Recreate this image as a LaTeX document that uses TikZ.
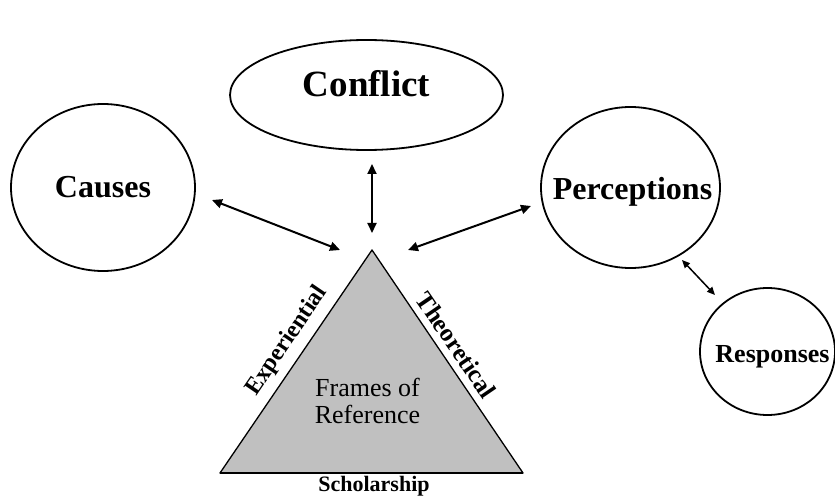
\documentclass[tikz,border=0pt]{standalone}
\usepackage{fontspec}
\setmainfont{Liberation Serif}
\usetikzlibrary{shapes.geometric,arrows.meta}

\definecolor{trifill}{RGB}{192,192,192}

\tikzset{
  bubble/.style={draw=black, line width=1.8pt, ellipse, inner sep=0pt},
  bubbletext/.style={anchor=base, inner sep=0pt, font=\bfseries\fontsize{#1}{#1}\selectfont},
  link/.style={line width=2pt, {Triangle[length=10pt,width=9pt]}-{Triangle[length=10pt,width=9pt]}},
  smalllink/.style={line width=1.5pt, {Triangle[length=8pt,width=7pt]}-{Triangle[length=8pt,width=7pt]}},
  sidelabel/.style={inner sep=0pt, font=\bfseries\fontsize{#1}{#1}\selectfont},
}

\begin{document}
\begin{tikzpicture}[x=1pt, y=-1pt]
  \useasboundingbox (0,0) rectangle (835,497);
  \clip (0,0) rectangle (835,497);

  % ellipses
  \node[bubble, minimum width=273pt, minimum height=110pt] (conflict) at (366.5,95) {};
  \node[bubble, minimum width=184pt, minimum height=167pt] (causes) at (103,187.5) {};
  \node[bubble, minimum width=179pt, minimum height=161pt] (perceptions) at (630.5,187.5) {};
  \node[bubble, minimum width=135pt, minimum height=127pt] (responses) at (767.5,351.5) {};

  % ellipse labels
  \node[bubbletext=37] (conflictT) at (366.5,97) {Conflict};
  \node[bubbletext=32] (causesT) at (103,198) {Causes};
  \node[bubbletext=32] (perceptionsT) at (632.5,200) {Perceptions};
  \node[bubbletext=26] (responsesT) at (772.5,362) {Responses};

  % triangle
  \coordinate (apex) at (372,250);
  \coordinate (baseL) at (220,473);
  \coordinate (baseR) at (523,473);
  \filldraw[fill=trifill, draw=black, line width=1.3pt, line join=round] (apex) -- (baseL) -- (baseR) -- cycle;
  \draw[line width=2.5pt] (baseL) -- (baseR);

  \node[align=center, inner sep=0pt, font=\fontsize{26}{27}\selectfont] (frames) at (367.5,401) {Frames of\\Reference};

  % labels on the triangle sides
  \node[sidelabel=24, rotate=55.7] (leftside) at (287,341) {Experiential};
  \node[sidelabel=25, rotate=-55.7] (rightside) at (456,345) {Theoretical};
  \node[sidelabel=22, anchor=base] (baseside) at (374,491) {Scholarship};

  % arrow end points
  \coordinate (conflictEnd) at (372,164);
  \coordinate (apexTop) at (372,233);
  \coordinate (causesEnd) at (212,200);
  \coordinate (apexLeft) at (340,250);
  \coordinate (percEnd) at (531,206);
  \coordinate (apexRight) at (408,250);
  \coordinate (percLow) at (682,260);
  \coordinate (respTop) at (715,295);

  % connectors
  \draw[link] (conflictEnd) -- (apexTop);
  \draw[link] (causesEnd) -- (apexLeft);
  \draw[link] (percEnd) -- (apexRight);
  \draw[smalllink] (percLow) -- (respTop);
\end{tikzpicture}
\end{document}
